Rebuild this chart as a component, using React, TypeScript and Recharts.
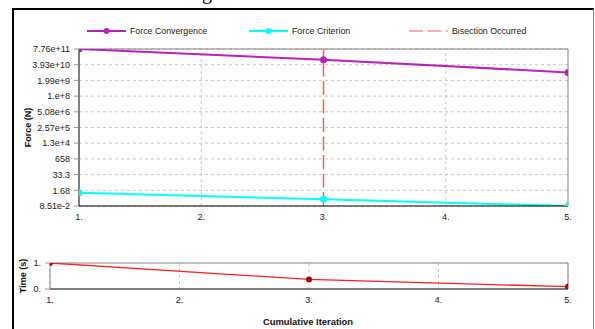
import React from 'react';
import { LineChart, Line, XAxis, YAxis, CartesianGrid, ReferenceLine } from 'recharts';

// ---- data ----
const iterations = [1, 3, 5];
const forceConvergence = [7.76e11, 1.02e11, 9.1e9];
const forceCriterion = [1.07, 0.304, 0.0851];
const timeValues = [1.0, 0.37, 0.088];
const bisectionIterations = [3];

const xTicks = [1, 2, 3, 4, 5];
const xTickLabels = ['1.', '2.', '3.', '4.', '5.'];
const forceTicks = [7.76e11, 3.93e10, 1.99e9, 1.0e8, 5.08e6, 2.57e5, 1.3e4, 658, 33.3, 1.68, 8.51e-2];
const forceTickLabels = ['7.76e+11', '3.93e+10', '1.99e+9', '1.e+8', '5.08e+6', '2.57e+5', '1.3e+4', '658', '33.3', '1.68', '8.51e-2'];
const timeTicks = [0, 1];
const timeTickLabels = ['0.', '1.'];

const legendNames = ['Force Convergence', 'Force Criterion', 'Bisection Occurred'];

const FONT = '"Liberation Sans", Arial, sans-serif';
const C_CONV = '#bb22bb';
const C_CRIT = '#00ffff';
const C_BIS = '#ff5a5a';
const C_TIME = '#ff2020';
const C_GRID = '#c8c8c8';

const forceData = iterations.map((it, i) => ({ iter: it, convergence: forceConvergence[i], criterion: forceCriterion[i] }));
const timeData = iterations.map((it, i) => ({ iter: it, time: timeValues[i] }));

const fmtX = (v: number) => {
  const i = xTicks.indexOf(v);
  return i >= 0 ? xTickLabels[i] : String(v);
};
const fmtForce = (v: number) => {
  const i = forceTicks.findIndex((t) => Math.abs(t - v) / t < 1e-6);
  return i >= 0 ? forceTickLabels[i] : String(v);
};
const fmtTime = (v: number) => {
  const i = timeTicks.indexOf(v);
  return i >= 0 ? timeTickLabels[i] : String(v);
};

// inner vertical grid lines of the force chart (the bisection line replaces the one at its position)
const forceGridX = xTicks.slice(1, -1).filter((t) => !bisectionIterations.includes(t));

const tickStyle = { fontSize: 9, fill: '#222', fontFamily: FONT };

const legendY = 31;
const legendItems = [
  { name: legendNames[0], color: C_CONV, dashed: false, x: 87 },
  { name: legendNames[1], color: C_CRIT, dashed: false, x: 249 },
  { name: legendNames[2], color: C_BIS, dashed: true, x: 409 },
];

export default function App() {
  return (
    <div style={{ position: 'absolute', left: 0, top: 0, width: 595, height: 329, overflow: 'hidden', background: '#fff', fontFamily: FONT }}>
      {/* outer frame */}
      <div style={{ position: 'absolute', left: 12, top: 8, width: 579, height: 340, borderLeft: '2px solid #000', borderTop: '2px solid #000', borderRight: '1px solid #888' }} />
      <svg style={{ position: 'absolute', left: 0, top: 0 }} width={595} height={50}>
        <text x={202} y={-1} fontSize={20} fontFamily='"Liberation Serif", serif' fill="#000">g</text>
        {legendItems.map((it) => (
          <g key={it.name}>
            <line x1={it.x} x2={it.x + 39} y1={legendY} y2={legendY} stroke={it.color} strokeWidth={it.dashed ? 1.2 : 2} strokeDasharray={it.dashed ? '14 4.5' : undefined} />
            {!it.dashed && <circle cx={it.x + 19.5} cy={legendY} r={3} fill={it.color} />}
            <text x={it.x + 43} y={legendY} dominantBaseline="central" fontSize={8.8} fontFamily={FONT} fill="#222">{it.name}</text>
          </g>
        ))}
      </svg>

      {/* top chart */}
      <div style={{ position: 'absolute', left: 0, top: 0 }}>
        <LineChart width={595} height={230} data={forceData} margin={{ top: 49, right: 27, bottom: 4, left: 0 }}>
          <CartesianGrid stroke={C_GRID} strokeDasharray="3 3" vertical={false} />
          <XAxis type="number" dataKey="iter" domain={[1, 5]} ticks={xTicks} interval={0} tickFormatter={fmtX}
            axisLine={{ stroke: '#000' }} tickLine={false} height={20} tick={tickStyle} allowDataOverflow />
          <YAxis type="number" scale="log" domain={[forceTicks[forceTicks.length - 1], forceTicks[0]]} ticks={forceTicks}
            interval={0} allowDataOverflow width={79} tickFormatter={fmtForce} tickSize={5} tickMargin={4}
            axisLine={{ stroke: '#000' }} tickLine={{ stroke: '#999' }} tick={tickStyle} />
          {forceGridX.map((g) => (
            <ReferenceLine key={'g' + g} x={g} stroke={C_GRID} strokeDasharray="3 3" />
          ))}
          <ReferenceLine y={forceTicks[0]} stroke="#808080" />
          <ReferenceLine x={5} stroke="#808080" />
          {bisectionIterations.map((b) => (
            <ReferenceLine key={b} x={b} stroke={C_BIS} strokeDasharray="14 4.5" strokeWidth={1.5} />
          ))}
          <Line type="linear" dataKey="convergence" stroke={C_CONV} strokeWidth={2} dot={{ r: 2.5, fill: C_CONV, stroke: C_CONV }} isAnimationActive={false} />
          <Line type="linear" dataKey="criterion" stroke={C_CRIT} strokeWidth={2} dot={{ r: 2.5, fill: C_CRIT, stroke: C_CRIT }} isAnimationActive={false} />
        </LineChart>
      </div>

      {/* bottom chart */}
      <div style={{ position: 'absolute', left: 0, top: 240 }}>
        <LineChart width={595} height={89} data={timeData} margin={{ top: 23, right: 27, bottom: 4, left: 0 }}>
          <CartesianGrid stroke={C_GRID} strokeDasharray="3 3" horizontal={false} />
          <XAxis type="number" dataKey="iter" domain={[1, 5]} ticks={xTicks} interval={0} tickFormatter={fmtX}
            axisLine={{ stroke: '#000' }} tickLine={false} height={36} tick={tickStyle} allowDataOverflow />
          <YAxis type="number" domain={[0, 1]} ticks={timeTicks} interval={0} allowDataOverflow width={50}
            tickFormatter={fmtTime} tickSize={5} tickMargin={4} axisLine={{ stroke: '#888' }} tickLine={{ stroke: '#999' }} tick={tickStyle} />
          <ReferenceLine y={1} stroke="#808080" />
          <ReferenceLine x={5} stroke="#808080" />
          <Line type="linear" dataKey="time" stroke={C_TIME} strokeWidth={1.3} dot={{ r: 2.3, fill: '#cc0000', stroke: '#990000' }} isAnimationActive={false} />
        </LineChart>
      </div>

      {/* axis titles */}
      <svg style={{ position: 'absolute', left: 0, top: 0, pointerEvents: 'none' }} width={595} height={329}>
        <text x={0} y={0} transform="translate(28,127.5) rotate(-90)" textAnchor="middle" dominantBaseline="central" fontSize={9} fontWeight="bold" fontFamily={FONT} fill="#111">Force (N)</text>
        <text x={0} y={0} transform="translate(23,276) rotate(-90)" textAnchor="middle" dominantBaseline="central" fontSize={9} fontWeight="bold" fontFamily={FONT} fill="#111">Time (s)</text>
        <text x={308} y={321} textAnchor="middle" dominantBaseline="central" fontSize={9.4} fontWeight="bold" fontFamily={FONT} fill="#111">Cumulative Iteration</text>
      </svg>
    </div>
  );
}
